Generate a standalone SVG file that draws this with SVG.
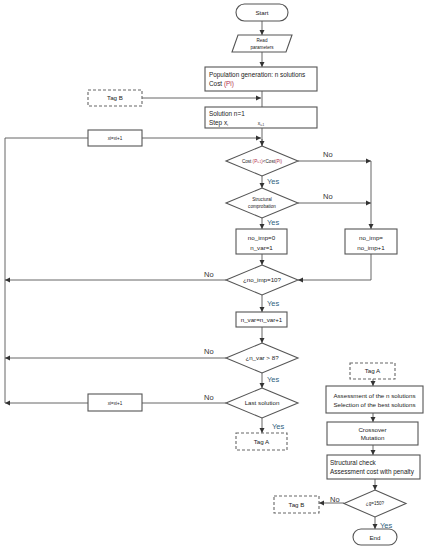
<svg xmlns="http://www.w3.org/2000/svg" width="427" height="550" viewBox="0 0 427 550">
<defs>
<marker id="ah" markerWidth="6" markerHeight="6" refX="5" refY="3" orient="auto" markerUnits="userSpaceOnUse">
<path d="M0,0.5 L5,3 L0,5.5 Z" fill="#333"/>
</marker>
<style>
.box{fill:#fff;stroke:#555;stroke-width:1.1}
.dash{fill:#fff;stroke:#666;stroke-width:1.1;stroke-dasharray:3,2}
.ln{fill:none;stroke:#555;stroke-width:0.9}
.arr{fill:none;stroke:#555;stroke-width:0.9;marker-end:url(#ah)}
.t{font-family:"Liberation Sans",Arial,sans-serif;font-size:6.2px;fill:#222;text-anchor:middle}
.tl{font-family:"Liberation Sans",Arial,sans-serif;font-size:6.4px;fill:#222}
.ts{font-family:"Liberation Sans",Arial,sans-serif;font-size:4.6px;fill:#222;text-anchor:middle}
.yes{font-family:"Liberation Sans",Arial,sans-serif;font-size:7.5px;fill:#2e5f80}
.no{font-family:"Liberation Sans",Arial,sans-serif;font-size:7.5px;fill:#333}
.red{fill:#b0304a}
</style>
</defs>
<rect width="427" height="550" fill="#fff"/>

<g id="connectors">
<line class="arr" x1="262" y1="21" x2="262" y2="35"/>
<line class="arr" x1="262" y1="52" x2="262" y2="67"/>
<line class="ln" x1="262" y1="91" x2="262" y2="107"/>
<line class="arr" x1="142" y1="98" x2="261" y2="98"/>
<line class="ln" x1="262" y1="128" x2="262" y2="146"/>
<line class="arr" x1="142" y1="138" x2="261" y2="138"/>
<line class="arr" x1="262" y1="139" x2="262" y2="146"/>
<polyline class="ln" points="5,403 5,138 88,138"/>
<line class="arr" x1="298" y1="161" x2="371" y2="161"/>
<line class="arr" x1="262" y1="175" x2="262" y2="188"/>
<line class="arr" x1="298" y1="203" x2="371" y2="203"/>
<line class="arr" x1="371" y1="161" x2="371" y2="229"/>
<line class="arr" x1="262" y1="217" x2="262" y2="229"/>
<line class="arr" x1="262" y1="254" x2="262" y2="265"/>
<polyline class="arr" points="371,254 371,280 298,280"/>
<line class="arr" x1="226" y1="280" x2="5" y2="280"/>
<line class="arr" x1="262" y1="295" x2="262" y2="312"/>
<line class="arr" x1="262" y1="327" x2="262" y2="343"/>
<line class="arr" x1="226" y1="358" x2="5" y2="358"/>
<line class="arr" x1="262" y1="372" x2="262" y2="388"/>
<line class="ln" x1="226" y1="403" x2="142" y2="403"/>
<line class="arr" x1="88" y1="403" x2="5" y2="403"/>
<line class="arr" x1="262" y1="418" x2="262" y2="433"/>
<line class="arr" x1="373" y1="379" x2="373" y2="386"/>
<line class="arr" x1="373" y1="413" x2="373" y2="422"/>
<line class="arr" x1="373" y1="445" x2="373" y2="455"/>
<line class="arr" x1="375" y1="479" x2="375" y2="490"/>
<line class="arr" x1="344" y1="503" x2="319" y2="503"/>
<line class="arr" x1="375" y1="517" x2="375" y2="529"/>
</g>

<g id="labels">
<text class="no" x="323" y="157">No</text>
<text class="no" x="323" y="199">No</text>
<text class="yes" x="267" y="184">Yes</text>
<text class="yes" x="267" y="225">Yes</text>
<text class="no" x="204" y="277">No</text>
<text class="yes" x="267" y="306">Yes</text>
<text class="no" x="204" y="354">No</text>
<text class="yes" x="267" y="382">Yes</text>
<text class="no" x="204" y="400">No</text>
<text class="yes" x="272" y="429">Yes</text>
<text class="no" x="330" y="502">No</text>
<text class="yes" x="380" y="528">Yes</text>
</g>

<g id="start">
<rect class="box" x="236" y="4" width="52" height="17" rx="8.5"/>
<text class="t" x="262" y="15">Start</text>
</g>

<g id="read">
<polygon class="box" points="238,35 292,35 286,52 232,52"/>
<text class="ts" x="262" y="42">Read</text>
<text class="ts" x="262" y="48.5">parameters</text>
</g>

<g id="population">
<rect class="box" x="205" y="67" width="112" height="24"/>
<text class="tl" x="209" y="77">Population generation: n solutions</text>
<text class="tl" x="209" y="86">Cost <tspan class="red">(Pi)</tspan></text>
</g>

<g id="tagB1">
<rect class="dash" x="88" y="90" width="54" height="16"/>
<text class="t" x="115" y="100">Tag B</text>
</g>

<g id="solution">
<rect class="box" x="205" y="107" width="112" height="21"/>
<text class="tl" x="209" y="116">Solution n=1</text>
<text class="tl" x="209" y="125">Step x<tspan font-size="3.5" dy="1">i</tspan></text>
<text class="ts" x="261" y="125">x<tspan font-size="3" dy="0.8">i+1</tspan></text>
</g>

<g id="xi1">
<rect class="box" x="88" y="130" width="54" height="16"/>
<text class="ts" x="115" y="140">xi=xi+1</text>
</g>

<g id="d1">
<polygon class="box" points="262,146 298,161 262,176 226,161"/>
<text class="ts" x="262" y="162.5">Cost <tspan class="red">(P<tspan font-size="3">i+1</tspan>)</tspan>&lt;Cost<tspan class="red">(Pi)</tspan></text>
</g>

<g id="d2">
<polygon class="box" points="262,188 298,203 262,218 226,203"/>
<text class="ts" x="262" y="201">Structural</text>
<text class="ts" x="262" y="207.5">comprobation</text>
</g>

<g id="noimp0">
<rect class="box" x="236" y="229" width="51" height="25"/>
<text class="t" x="261.5" y="240">no_imp=0</text>
<text class="t" x="261.5" y="249.5">n_var=1</text>
</g>

<g id="noimp">
<rect class="box" x="345" y="229" width="52" height="25"/>
<text class="t" x="371" y="240">no_imp=</text>
<text class="t" x="371" y="249.5">no_imp+1</text>
</g>

<g id="d3">
<polygon class="box" points="262,265 298,280 262,295 226,280"/>
<text class="t" x="262" y="282">¿no_imp=10?</text>
</g>

<g id="nvar">
<rect class="box" x="236" y="312" width="51" height="15"/>
<text class="t" x="261.5" y="321.5">n_var=n_var+1</text>
</g>

<g id="d4">
<polygon class="box" points="262,343 298,358 262,373 226,358"/>
<text class="t" x="262" y="360">¿n_var &gt; 8?</text>
</g>

<g id="d5">
<polygon class="box" points="262,388 298,403 262,418 226,403"/>
<text class="t" x="262" y="405">Last solution</text>
</g>

<g id="xi2">
<rect class="box" x="88" y="394" width="54" height="17"/>
<text class="ts" x="115" y="404.5">xi=xi+1</text>
</g>

<g id="tagA1">
<rect class="dash" x="236" y="433" width="51" height="17"/>
<text class="t" x="261.5" y="443.5">Tag A</text>
</g>

<g id="tagA2">
<rect class="dash" x="350" y="363" width="45" height="16"/>
<text class="t" x="372.5" y="373">Tag A</text>
</g>

<g id="assess">
<rect class="box" x="326" y="386" width="97" height="27"/>
<text class="t" x="374.5" y="397.5">Assessment of the n solutions</text>
<text class="t" x="374.5" y="406.5">Selection of the best solutions</text>
</g>

<g id="crossover">
<rect class="box" x="327" y="422" width="91" height="23"/>
<text class="t" x="372.5" y="431.5">Crossover</text>
<text class="t" x="372.5" y="440">Mutation</text>
</g>

<g id="structural">
<rect class="box" x="327" y="455" width="93" height="24"/>
<text class="tl" x="330" y="465">Structural check</text>
<text class="tl" x="330" y="474">Assessment cost with penalty</text>
</g>

<g id="d6">
<polygon class="box" points="375,490 406,503.5 375,517 344,503.5"/>
<text class="ts" x="375" y="505">¿g=150?</text>
</g>

<g id="tagB2">
<rect class="dash" x="274" y="496" width="45" height="17"/>
<text class="t" x="296.5" y="506.5">Tag B</text>
</g>

<g id="end">
<rect class="box" x="353" y="529" width="44" height="16" rx="8"/>
<text class="t" x="375" y="539.5">End</text>
</g>
</svg>
